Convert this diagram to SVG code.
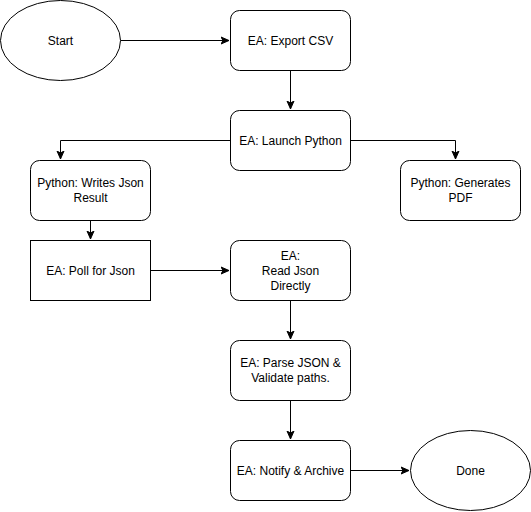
<svg xmlns="http://www.w3.org/2000/svg" width="531" height="512" viewBox="0 0 531 512">
<defs>
<style>
.n{fill:#fff;stroke:#000;stroke-width:1}
.t{font-family:"Liberation Sans",Arial,sans-serif;font-size:12px;fill:#000;text-anchor:middle}
.c{fill:none;stroke:#000;stroke-width:1}
</style>
<marker id="a" markerUnits="userSpaceOnUse" markerWidth="10" markerHeight="10" viewBox="0 0 10 10" refX="8" refY="5" orient="auto">
<path d="M0,1.5 L8,5 L0,8.5 L2,5 Z" fill="#000" stroke="#000" stroke-width="1"/>
</marker>
</defs>
<rect width="531" height="512" fill="#fff"/>
<g id="connectors">
<path class="c" d="M120.5,40.5 H229" marker-end="url(#a)"/>
<path class="c" d="M290.5,70.5 V109" marker-end="url(#a)"/>
<path class="c" d="M230.5,140.5 H60.5 V159" marker-end="url(#a)"/>
<path class="c" d="M350.5,140.5 H455.5 V159" marker-end="url(#a)"/>
<path class="c" d="M90.5,220.5 V239" marker-end="url(#a)"/>
<path class="c" d="M150.5,270.5 H229" marker-end="url(#a)"/>
<path class="c" d="M290.5,300.5 V339" marker-end="url(#a)"/>
<path class="c" d="M290.5,400.5 V439" marker-end="url(#a)"/>
<path class="c" d="M350.5,470.5 H409" marker-end="url(#a)"/>
</g>
<g id="start"><ellipse class="n" cx="60.5" cy="40.5" rx="60" ry="40"/><text class="t" x="60.5" y="45">Start</text></g>
<g id="export"><rect class="n" x="230.5" y="10.5" width="120" height="60" rx="9"/><text class="t" x="290.5" y="45">EA: Export CSV</text></g>
<g id="launch"><rect class="n" x="230.5" y="110.5" width="120" height="60" rx="9"/><text class="t" x="290.5" y="145">EA: Launch Python</text></g>
<g id="writes"><rect class="n" x="30.5" y="160.5" width="120" height="60" rx="9"/><text class="t" x="90.5" y="187">Python: Writes Json</text><text class="t" x="90.5" y="202">Result</text></g>
<g id="pdf"><rect class="n" x="400.5" y="160.5" width="120" height="60" rx="9"/><text class="t" x="460.5" y="187">Python: Generates</text><text class="t" x="460.5" y="202">PDF</text></g>
<g id="poll"><rect class="n" x="30.5" y="240.5" width="120" height="60"/><text class="t" x="90.5" y="275">EA: Poll for Json</text></g>
<g id="read"><rect class="n" x="230.5" y="240.5" width="120" height="60" rx="9"/><text class="t" x="290.5" y="260">EA:</text><text class="t" x="290.5" y="275">Read Json</text><text class="t" x="290.5" y="290">Directly</text></g>
<g id="parse"><rect class="n" x="230.5" y="340.5" width="120" height="60" rx="9"/><text class="t" x="290.5" y="367">EA: Parse JSON &amp;</text><text class="t" x="290.5" y="382">Validate paths.</text></g>
<g id="notify"><rect class="n" x="230.5" y="440.5" width="120" height="60" rx="9"/><text class="t" x="290.5" y="475">EA: Notify &amp; Archive</text></g>
<g id="done"><ellipse class="n" cx="470.5" cy="470.5" rx="60" ry="40"/><text class="t" x="470.5" y="475">Done</text></g>
</svg>
